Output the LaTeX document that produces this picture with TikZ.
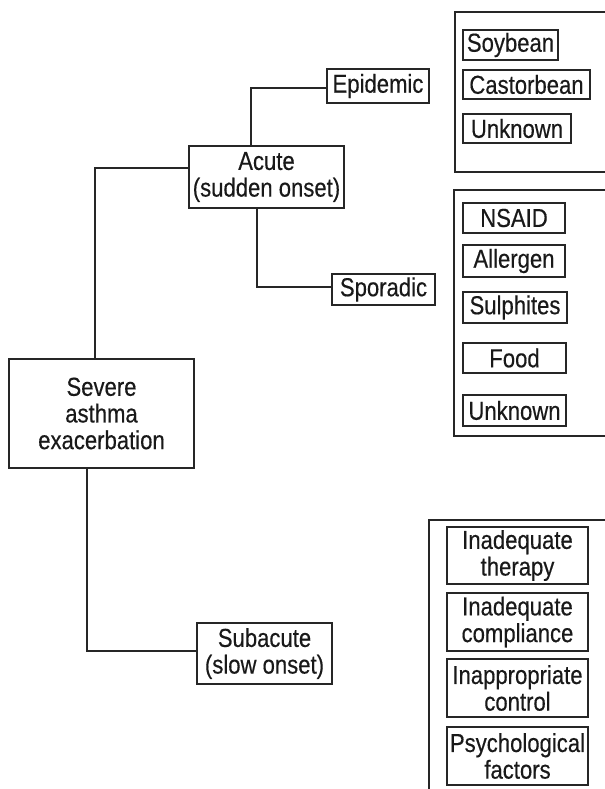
\documentclass[tikz,border=0pt]{standalone}
\usepackage{fontspec}
\setmainfont{Liberation Sans}[FakeStretch=0.85,FakeBold=0.35]
\usetikzlibrary{calc}
\newcommand\bx[6]{\node[box, minimum width={(#4-#2)*0.75pt}, minimum height={(#5-#3)*0.75pt}] (#1) at ({(#2+#4)/2},{(#3+#5)/2}) {#6};}
\tikzset{
  box/.style={draw=black!85, line width=0.9pt, inner sep=0pt, align=center,
    font=\fontsize{19.5}{20}\selectfont, text=black!90},
  conn/.style={draw=black!85, line width=0.9pt},
}
\begin{document}
\begin{tikzpicture}[x=0.75pt,y=-0.75pt]
\useasboundingbox (0,0) rectangle (605,789);
\fill[white] (0,0) rectangle (605,789);
% main boxes
\bx{sev}{9}{359}{194}{468}{Severe\\asthma\\exacerbation}
\bx{acute}{189}{146}{344}{208}{Acute\\(sudden onset)}
\bx{epi}{327}{69}{429}{103}{Epidemic}
\bx{spor}{332}{274}{435}{305}{Sporadic}
\bx{sub}{197}{623}{332}{684}{Subacute\\(slow onset)}
% epidemic group
\bx{soy}{463}{30}{558}{60}{Soybean}
\bx{castor}{463}{70}{590}{99}{Castorbean}
\bx{unka}{463}{114}{571}{143}{Unknown}
% sporadic group
\bx{nsaid}{463}{203}{565}{233}{NSAID}
\bx{allergen}{463}{245}{565}{277}{Allergen}
\bx{sulph}{463}{292}{567}{323}{Sulphites}
\bx{food}{463}{343}{566}{373}{Food}
\bx{unkb}{463}{395}{566}{426}{Unknown}
% subacute group
\bx{ther}{447}{527}{588}{584}{Inadequate\\therapy}
\bx{compl}{447}{593}{588}{651}{Inadequate\\compliance}
\bx{inappr}{447}{659}{588}{717}{Inappropriate\\control}
\bx{psych}{447}{727}{588}{785}{Psychological\\factors}
% bracket coordinates
\coordinate (b1) at (455,0);
\coordinate (b2) at (454,0);
\coordinate (b3) at (429,0);
\draw[conn] (605,12) -- (455,12) -- (455,172) -- (605,172);
\draw[conn] (605,190) -- (454,190) -- (454,436) -- (605,436);
\draw[conn] (605,520) -- (429,520) -- (429,789);
% connectors
\draw[conn] ($(sev.north)+(-6.5,0)$) |- ($(acute.west)+(0,-9)$);
\draw[conn] ($(acute.north)+(-15.5,0)$) |- ($(epi.west)+(0,2)$);
\draw[conn] ($(acute.south)+(-9.5,0)$) |- ($(spor.west)+(0,-2.5)$);
\draw[conn] ($(sev.south)+(-14.5,0)$) |- ($(sub.west)+(0,-2.5)$);
\draw[conn] ($(epi.east)+(0,2)$) -- ($(epi.east)+(0,2)$ -| b1);
\draw[conn] ($(spor.east)+(0,-2.5)$) -- ($(spor.east)+(0,-2.5)$ -| b2);
\draw[conn] ($(sub.east)+(0,-2.5)$) -- ($(sub.east)+(0,-2.5)$ -| b3);
\end{tikzpicture}
\end{document}
